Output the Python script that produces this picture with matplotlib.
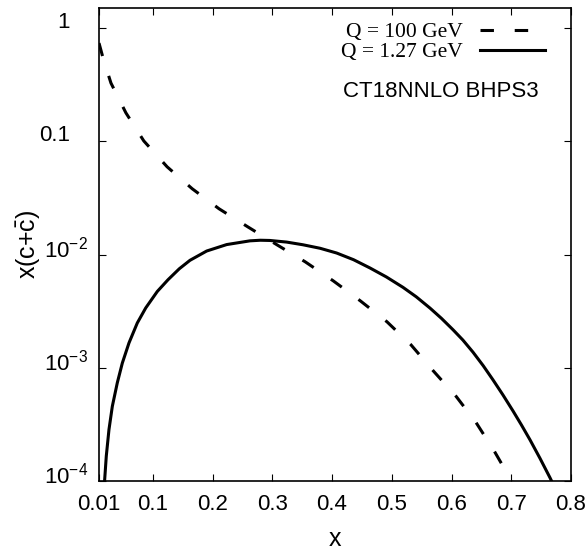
import matplotlib
matplotlib.use("Agg")
import matplotlib.pyplot as plt
from matplotlib.ticker import FixedLocator, NullLocator
from matplotlib.transforms import ScaledTranslation

# Q = 100 GeV (linea discontinua)
x_q100 = [0.010, 0.017, 0.030, 0.055, 0.085, 0.124, 0.166, 0.211, 0.259, 0.308,
          0.355, 0.402, 0.447, 0.492, 0.532, 0.569, 0.608, 0.641, 0.671, 0.703]
y_q100 = [0.74, 0.54, 0.328, 0.179, 0.101, 0.0597, 0.0382, 0.0254, 0.0176, 0.0122,
          0.00865, 0.00587, 0.00392, 0.00255, 0.00160, 0.000946, 0.000557, 0.000329,
          0.000186, 0.000095]

# Q = 1.27 GeV (linea continua)
x_q127 = [0.0195, 0.0222, 0.0267, 0.0323, 0.0406, 0.049, 0.0602, 0.0741, 0.0882,
          0.1076, 0.1255, 0.1444, 0.1623, 0.1902, 0.2237, 0.2627, 0.280, 0.296,
          0.324, 0.3514, 0.380, 0.4078, 0.436, 0.4636, 0.491, 0.5188, 0.541, 0.564,
          0.583, 0.6025, 0.619, 0.636, 0.653, 0.6694, 0.686, 0.7029, 0.717, 0.7314,
          0.748, 0.7648, 0.7675]
y_q127 = [1.03e-4, 1.66e-4, 2.85e-4, 4.57e-4, 7.36e-4, 1.10e-3, 1.66e-3, 2.49e-3,
          3.38e-3, 4.73e-3, 6.00e-3, 7.50e-3, 8.91e-3, 0.01076, 0.01227, 0.01324,
          0.01340, 0.01334, 0.01291, 0.01222, 0.01138, 0.01033, 0.00902, 0.00762,
          0.00635, 0.00514, 0.00424, 0.00337, 0.00274, 0.00217, 0.00176, 0.001374,
          0.001045, 0.000783, 0.000577, 0.000416, 0.000313, 0.000231, 0.000159,
          0.000107, 0.0001]

ticks_x = [0.01, 0.1, 0.2, 0.3, 0.4, 0.5, 0.6, 0.7, 0.8]
etiquetas_x = ["0.01", "0.1", "0.2", "0.3", "0.4", "0.5", "0.6", "0.7", "0.8"]
ticks_y = [1e-4, 1e-3, 1e-2, 0.1, 1]
etiquetas_y = ["10$^{-4}$", "10$^{-3}$", "10$^{-2}$", "0.1", "1"]

plt.rcParams["font.family"] = ["Liberation Sans", "DejaVu Sans"]
plt.rcParams["mathtext.default"] = "regular"

fig = plt.figure(figsize=(5.88, 5.53), dpi=100)
ax = fig.add_axes([99 / 588, 72 / 553, 472 / 588, 473 / 553])

ax.plot(x_q100, y_q100, color="black", lw=2.2, dashes=(4.4, 6.8),
        label="Q = 100 GeV")
ax.plot(x_q127, y_q127, color="black", lw=2.2, label="Q = 1.27 GeV")

ax.set_yscale("log")
ax.set_xlim(0.01, 0.8)
ax.set_ylim(1e-4, 1.51)

ax.xaxis.set_major_locator(FixedLocator(ticks_x))
ax.set_xticklabels(etiquetas_x)
ax.yaxis.set_major_locator(FixedLocator(ticks_y))
ax.yaxis.set_minor_locator(NullLocator())
ax.set_yticklabels(etiquetas_y)

ax.tick_params(which="both", direction="in", top=True, right=True,
               length=5, width=0.8, labelsize=16)
ax.tick_params(axis="x", pad=9)
ax.tick_params(axis="y", pad=8)
for lado in ax.spines.values():
    lado.set_linewidth(1.2)

# gnuplot deja las etiquetas del eje y algo desplazadas
for etiqueta in ax.get_yticklabels():
    dx = -0.18 if etiqueta.get_text() in ("0.1", "1") else 0
    etiqueta.set_transform(etiqueta.get_transform()
                           + ScaledTranslation(dx, 0.08, fig.dpi_scale_trans))

ax.set_xlabel("x", fontsize=18, labelpad=9)
ax.set_ylabel(r"x(c+$\bar{c}$)", fontsize=18)
ax.yaxis.set_label_coords(-0.121, 0.5)

ax.legend(loc="upper right", bbox_to_anchor=(0.945, 0.97), frameon=False,
          markerfirst=False, borderaxespad=0, borderpad=0, handlelength=3.0,
          handletextpad=0.8, labelspacing=0.0,
          prop={"family": "Liberation Serif", "size": 15.5})

ax.text(0.7246, 0.8245, "CT18NNLO BHPS3", transform=ax.transAxes,
        ha="center", va="center", fontsize=16)

fig.savefig("out.png", dpi=100)
